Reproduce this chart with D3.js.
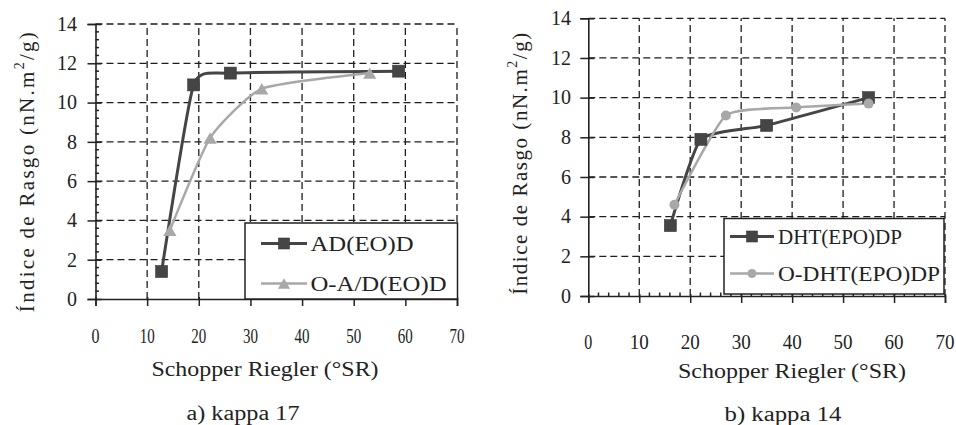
<!DOCTYPE html>
<html><head><meta charset="utf-8">
<script src="https://cdn.jsdelivr.net/npm/d3@7"></script>
<style>
html,body{margin:0;padding:0;background:#fff;}
svg{display:block;}
text{font-family:"Liberation Serif","Times New Roman",serif;fill:#222;}
</style></head>
<body>
<svg id="chart" width="956" height="425"></svg>
<script>
// ---- data ----
const xTicks = [0, 10, 20, 30, 40, 50, 60, 70];
const yTicks = [0, 2, 4, 6, 8, 10, 12, 14];

// panel a) kappa 17
const seriesA1Name = "AD(EO)D";
const seriesA1X = [12.8, 19.0, 26.1, 58.7];
const seriesA1Y = [1.4, 10.9, 11.5, 11.6];
const seriesA2Name = "O-A/D(EO)D";
const seriesA2X = [14.4, 22.2, 32.2, 53.1];
const seriesA2Y = [3.5, 8.2, 10.7, 11.5];

// panel b) kappa 14
const seriesB1Name = "DHT(EPO)DP";
const seriesB1X = [16.1, 22.1, 35.0, 55.0];
const seriesB1Y = [3.55, 7.9, 8.6, 10.0];
const seriesB2Name = "O-DHT(EPO)DP";
const seriesB2X = [16.9, 27.0, 40.8, 55.0];
const seriesB2Y = [4.6, 9.1, 9.5, 9.7];

const xTitle = "Schopper Riegler (°SR)";
const yTitleMain = "Índice de Rasgo (nN.m";
const yTitleSup = "2";
const yTitleEnd = "/g)";
const panelTitles = ["a) kappa 17", "b) kappa 14"];

// ---- drawing ----
const svg = d3.select("#chart");
const DARK = "#454545", LIGHT = "#a8a8a8";

function zip(xs, ys){ return xs.map((x,i)=>({x:x, y:ys[i]})); }

const panels = [
  {
    xr:[95.5,457], yr:[299,24], title:panelTitles[0],
    yMinor:true, xMinor:false,
    tickLabelRight:77, xLabelY:343, xLabelLen1:8, xLabelLen2:15,
    xTitleX:265, xTitleY:376, xTitleLen:227,
    pTitleX:243, pTitleY:420, pTitleLen:113,
    yTitleX:34, yTitleY:171, yTitleLen:280,
    legend:{x0:245, x1:457.5, y0:223, y1:299, row1:243.5, row2:283.5, lx0:261, lx1:307, tx:310.5, len1:103, len2:136},
    series:[
      {name:seriesA1Name, data:zip(seriesA1X, seriesA1Y), color:DARK, lw:3, marker:"square"},
      {name:seriesA2Name, data:zip(seriesA2X, seriesA2Y), color:LIGHT, lw:2.5, marker:"triangle"}
    ]
  },
  {
    xr:[588.3,945], yr:[296,18.3], title:panelTitles[1],
    yMinor:false, xMinor:true,
    tickLabelRight:571, xLabelY:349, xLabelLen1:8, xLabelLen2:19,
    xTitleX:792, xTitleY:378, xTitleLen:228,
    pTitleX:783, pTitleY:421, pTitleLen:117,
    yTitleX:527, yTitleY:163, yTitleLen:262,
    legend:{x0:724, x1:944, y0:218.5, y1:294, row1:236.5, row2:273.5, lx0:730, lx1:774, tx:778, len1:124, len2:162},
    series:[
      {name:seriesB1Name, data:zip(seriesB1X, seriesB1Y), color:DARK, lw:3, marker:"square"},
      {name:seriesB2Name, data:zip(seriesB2X, seriesB2Y), color:LIGHT, lw:2.5, marker:"circle"}
    ]
  }
];

function drawMarker(g, type, cx, cy, color, size){
  if(type==="square"){
    g.append("rect").attr("x",cx-size/2).attr("y",cy-size/2).attr("width",size).attr("height",size)
      .attr("fill",color).attr("stroke","#3a3a3a").attr("stroke-width",0.6);
  } else if(type==="triangle"){
    const h=size*0.95, w=size*1.1;
    g.append("path").attr("d",`M${cx},${cy-h/2}L${cx+w/2},${cy+h/2}L${cx-w/2},${cy+h/2}Z`).attr("fill",color);
  } else {
    g.append("circle").attr("cx",cx).attr("cy",cy).attr("r",size/2).attr("fill",color);
  }
}

function fitText(t, len){
  t.attr("textLength", len).attr("lengthAdjust","spacingAndGlyphs");
  return t;
}

panels.forEach(p=>{
  const x = d3.scaleLinear().domain([0,70]).range(p.xr);
  const y = d3.scaleLinear().domain([0,14]).range(p.yr);
  const g = svg.append("g");

  // grid (dashed)
  const grid = g.append("g").attr("stroke","#1e1e1e").attr("stroke-width",1.3).attr("stroke-dasharray","7,4").attr("fill","none");
  xTicks.filter(v=>v>0).forEach(v=>{
    grid.append("line").attr("x1",x(v)).attr("x2",x(v)).attr("y1",y(0)).attr("y2",y(14));
  });
  yTicks.filter(v=>v>0).forEach(v=>{
    grid.append("line").attr("x1",x(0)).attr("x2",x(70)).attr("y1",y(v)).attr("y2",y(v));
  });

  // axes
  const xAxis = d3.axisBottom(x).tickValues(xTicks).tickSize(7).tickFormat("");
  const yAxis = d3.axisLeft(y).tickValues(yTicks).tickSize(8).tickFormat("");
  const gx = g.append("g").attr("transform",`translate(0,${y(0)})`).call(xAxis);
  const gy = g.append("g").attr("transform",`translate(${x(0)},0)`).call(yAxis);
  [gx,gy].forEach(a=>{
    a.select(".domain").attr("stroke","#222").attr("stroke-width",1.6);
    a.selectAll(".tick line").attr("stroke","#222").attr("stroke-width",1.5);
  });
  gy.selectAll(".tick line").attr("x2",6).attr("x1",-8);
  gx.selectAll(".tick line").attr("y1",-2);
  if(p.yMinor){
    const minor = d3.range(0,14.01,0.4).filter(v=>Math.abs(v/2-Math.round(v/2))>1e-6);
    g.append("g").selectAll("line").data(minor).join("line")
      .attr("x1",x(0)).attr("x2",x(0)+3.5).attr("y1",d=>y(d)).attr("y2",d=>y(d))
      .attr("stroke","#222").attr("stroke-width",1.5);
  }
  if(p.xMinor){
    const minor = d3.range(0,70.01,2).filter(v=>v%10!==0);
    g.append("g").selectAll("line").data(minor).join("line")
      .attr("x1",d=>x(d)).attr("x2",d=>x(d)).attr("y1",y(0)).attr("y2",y(0)-3.5)
      .attr("stroke","#222").attr("stroke-width",1.5);
  }

  // tick labels
  yTicks.forEach(v=>{
    g.append("text").attr("x",p.tickLabelRight).attr("y",y(v)).attr("dy","0.34em")
      .attr("text-anchor","end").attr("font-size",20).text(v);
  });
  xTicks.forEach(v=>{
    const t = g.append("text").attr("x",x(v)).attr("y",p.xLabelY)
      .attr("text-anchor","middle").attr("font-size",20).text(v);
    fitText(t, String(v).length===1 ? p.xLabelLen1 : p.xLabelLen2);
  });

  // axis titles
  fitText(g.append("text").attr("x",p.xTitleX).attr("y",p.xTitleY).attr("text-anchor","middle")
    .attr("font-size",20).text(xTitle), p.xTitleLen);
  fitText(g.append("text").attr("x",p.pTitleX).attr("y",p.pTitleY).attr("text-anchor","middle")
    .attr("font-size",20).text(p.title), p.pTitleLen);

  const yt = g.append("text").attr("transform",`translate(${p.yTitleX},${p.yTitleY}) rotate(-90)`)
    .attr("text-anchor","middle").attr("font-size",21);
  yt.append("tspan").text(yTitleMain);
  yt.append("tspan").attr("font-size",14).attr("dy","-0.7em").text(yTitleSup);
  yt.append("tspan").attr("dy","0.45em").attr("font-size",21).text(yTitleEnd);
  const natural = yt.node().getComputedTextLength();
  const nChars = (yTitleMain+yTitleSup+yTitleEnd).length;
  yt.attr("letter-spacing", ((p.yTitleLen-natural)/(nChars-1)).toFixed(3)+"px");

  // series (smoothed lines)
  const line = d3.line().x(d=>x(d.x)).y(d=>y(d.y)).curve(d3.curveCardinal.tension(0.5));
  p.series.forEach(s=>{
    g.append("path").datum(s.data).attr("d",line).attr("fill","none")
      .attr("stroke",s.color).attr("stroke-width",s.lw).attr("stroke-linejoin","round");
  });
  p.series.forEach(s=>{
    s.data.forEach(d=>drawMarker(g, s.marker, x(d.x), y(d.y), s.color, s.marker==="circle"?10:12));
  });

  // legend
  const L = p.legend;
  const lg = g.append("g");
  lg.append("rect").attr("x",L.x0).attr("y",L.y0).attr("width",L.x1-L.x0).attr("height",L.y1-L.y0)
    .attr("fill","#fff").attr("stroke","#222").attr("stroke-width",1.5);
  [L.row1, L.row2].forEach((ry,i)=>{
    const s = p.series[i];
    lg.append("line").attr("x1",L.lx0).attr("x2",L.lx1).attr("y1",ry).attr("y2",ry)
      .attr("stroke",s.color).attr("stroke-width",s.lw);
    drawMarker(lg, s.marker, (L.lx0+L.lx1)/2, ry, s.color, s.marker==="circle"?9:11);
    fitText(lg.append("text").attr("x",L.tx).attr("y",ry).attr("dy","0.36em")
      .attr("font-size",22).text(s.name), i===0?L.len1:L.len2);
  });
});
</script>
</body></html>
